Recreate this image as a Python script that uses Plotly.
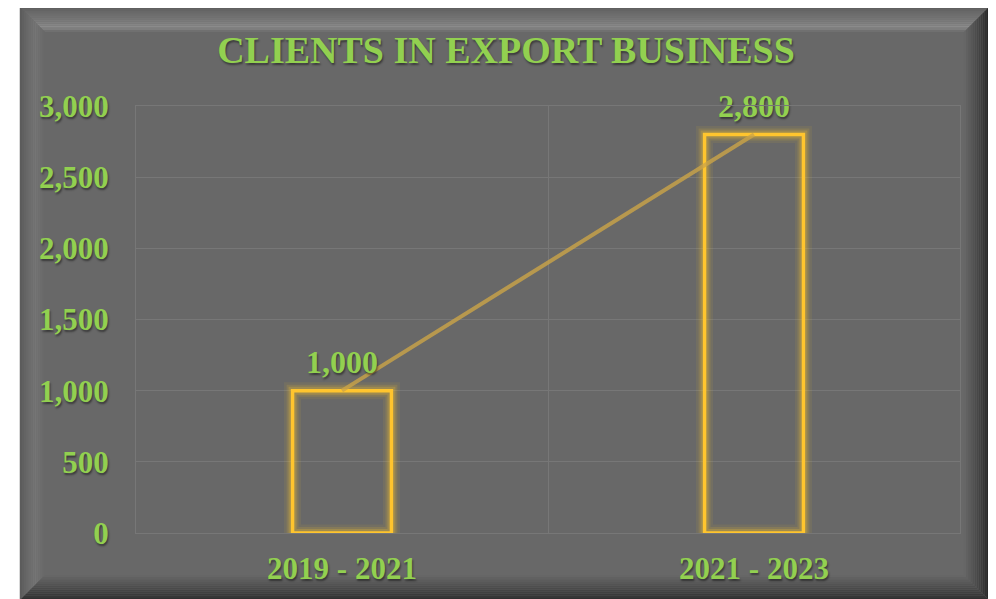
import plotly.graph_objects as go

# data
periods = ["2019 - 2021", "2021 - 2023"]
clients = [1000, 2800]

title_text = "CLIENTS IN EXPORT BUSINESS"
GREEN = "#92D050"
GOLD = "#FFC52E"
FONT = "Liberation Serif"
SHADOW = "1px 2px 2px rgba(0,0,0,0.45)"

# the page puts the figure 8px in from the top-left corner,
# so everything below is measured in page pixels and shifted back
OFF = 8
W, H = 996 - OFF, 599 - OFF
PL, PR, PT, PB = 136, 960, 106, 533          # plot area in page pixels
ML, MT = PL - OFF, PT - OFF
MR, MB = 996 - PR, 599 - PB
PW, PH = PR - PL, PB - PT


def px(x):
    return (x - PL) / PW


def py(y):
    return (PB - y) / PH


def mix(c1, c2, t):
    a = [int(c1[i:i + 2], 16) for i in (1, 3, 5)]
    b = [int(c2[i:i + 2], 16) for i in (1, 3, 5)]
    return "#%02x%02x%02x" % tuple(round(a[k] + (b[k] - a[k]) * t) for k in range(3))


def ramp(stops, t):
    for (p0, c0), (p1, c1) in zip(stops, stops[1:]):
        if p0 <= t <= p1:
            return mix(c0, c1, (t - p0) / (p1 - p0) if p1 > p0 else 0)
    return stops[-1][1]


def poly(pts):
    return "M " + " L ".join("%f,%f" % (px(x), py(y)) for x, y in pts) + " Z"


shapes = []
X0, X1, Y0, Y1 = 20, 989, 7, 600
BEV = 25
BASE = "#686868"

shapes.append(dict(type="rect", xref="paper", yref="paper", layer="below",
                   x0=px(X0 - 1), x1=px(X1 + 1), y0=py(Y1), y1=py(Y0 - 1),
                   fillcolor="#d9d9d9", line=dict(width=0)))
shapes.append(dict(type="rect", xref="paper", yref="paper", layer="below",
                   x0=px(X0), x1=px(X1), y0=py(Y1), y1=py(Y0),
                   fillcolor=BASE, line=dict(width=0)))

sides = {
    "top": [(0, "#5e5e5e"), (0.55, "#7a7a7a"), (0.8, "#8c8c8c"), (1, BASE)],
    "left": [(0, "#5a5a5a"), (0.6, "#767676"), (1, BASE)],
    "right": [(0, "#262626"), (0.4, "#454545"), (1, BASE)],
    "bottom": [(0, "#2e2e2e"), (0.5, "#4c4c4c"), (1, BASE)],
}
N = 12
for side, stops in sides.items():
    for i in range(N):
        a, c = BEV * i / N, BEV * (i + 1) / N
        col = ramp(stops, (i + 0.5) / N)
        if side == "top":
            pts = [(X0 + a, Y0 + a), (X1 - a, Y0 + a), (X1 - c, Y0 + c), (X0 + c, Y0 + c)]
        elif side == "bottom":
            pts = [(X0 + a, Y1 - a), (X1 - a, Y1 - a), (X1 - c, Y1 - c), (X0 + c, Y1 - c)]
        elif side == "left":
            pts = [(X0 + a, Y0 + a), (X0 + c, Y0 + c), (X0 + c, Y1 - c), (X0 + a, Y1 - a)]
        else:
            pts = [(X1 - a, Y0 + a), (X1 - c, Y0 + c), (X1 - c, Y1 - c), (X1 - a, Y1 - a)]
        shapes.append(dict(type="path", xref="paper", yref="paper", layer="below",
                           path=poly(pts), fillcolor=col, line=dict(width=0)))

fig = go.Figure()

# glow behind bar outlines
for w, op in [(17, 0.08), (12, 0.13), (8, 0.22)]:
    fig.add_trace(go.Bar(x=periods, y=clients, width=0.24,
                         marker=dict(color="rgba(0,0,0,0)",
                                     line=dict(color="rgba(255,200,40,%s)" % op, width=w)),
                         hoverinfo="skip", showlegend=False))

fig.add_trace(go.Bar(x=periods, y=clients, width=0.24, name="Clients",
                     marker=dict(color="rgba(0,0,0,0)", line=dict(color=GOLD, width=3.5)),
                     showlegend=False))

fig.add_trace(go.Scatter(x=periods, y=clients, mode="lines+markers+text",
                         line=dict(color="rgba(205,165,70,0.78)", width=4),
                         marker=dict(size=14, color="rgba(0,0,0,0)"),
                         texttemplate="%{y:,}", textposition="top center",
                         cliponaxis=False,
                         textfont=dict(family=FONT, size=32, color=GREEN,
                                       weight="bold", shadow=SHADOW),
                         showlegend=False))

fig.update_layout(
    width=W, height=H,
    margin=dict(l=ML, r=MR, t=MT, b=MB),
    paper_bgcolor="white",
    plot_bgcolor="rgba(0,0,0,0)",
    barmode="overlay",
    shapes=shapes,
    title=dict(text=title_text, x=(506 - OFF) / W, xanchor="center",
               y=1 - (50 - OFF) / H, yanchor="middle",
               font=dict(family=FONT, size=38, color=GREEN, weight="bold",
                         shadow=SHADOW)),
    xaxis=dict(type="category", tickson="boundaries", showgrid=True,
               gridcolor="#777777", gridwidth=1, ticks="", ticklen=0,
               showline=True, linecolor="#777777", mirror=True,
               ticklabelstandoff=8, automargin=False,
               tickfont=dict(family=FONT, size=31, color=GREEN, weight="bold",
                             shadow=SHADOW)),
    yaxis=dict(range=[0, 3000], dtick=500, tickformat=",", showgrid=True,
               gridcolor="#777777", gridwidth=1, zeroline=False,
               showline=True, linecolor="#777777", mirror=True,
               ticklabelstandoff=20, automargin=False,
               tickfont=dict(family=FONT, size=31, color=GREEN, weight="bold",
                             shadow=SHADOW)),
)

fig.write_html("out.html")
